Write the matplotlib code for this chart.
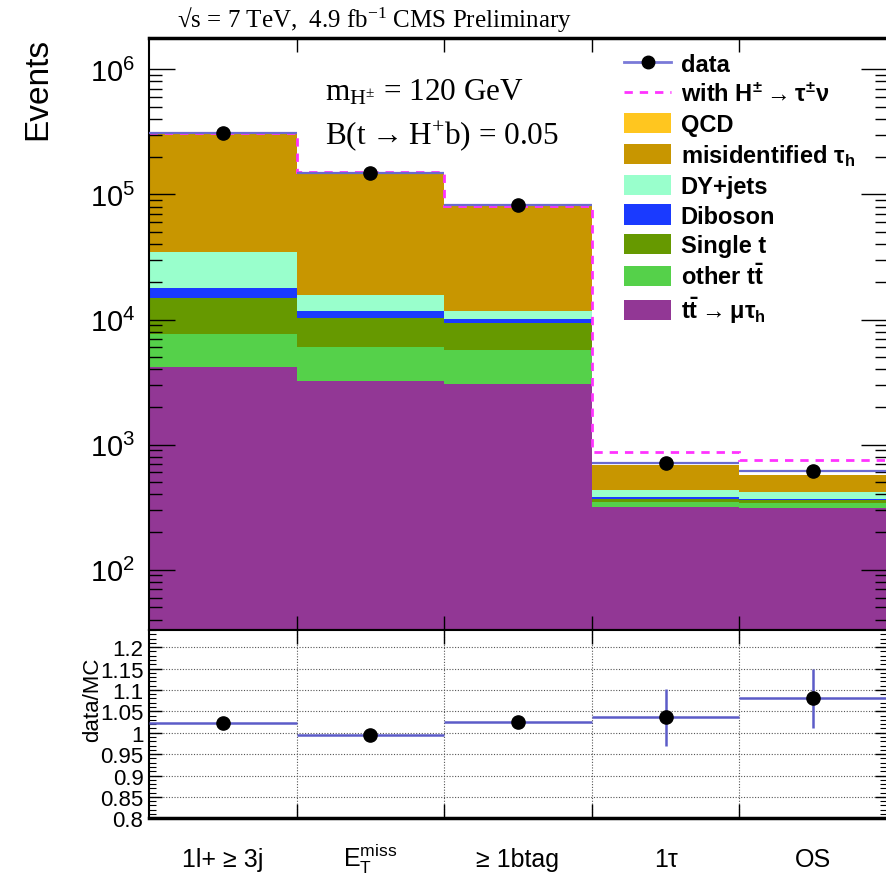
import numpy as np
import matplotlib
matplotlib.use('Agg')
import matplotlib.pyplot as plt
from matplotlib.patches import Patch
from matplotlib.lines import Line2D
from matplotlib.ticker import FixedLocator, MultipleLocator, LogLocator, NullFormatter, FuncFormatter

plt.rcParams['font.family'] = ['Liberation Sans', 'DejaVu Sans']
plt.rcParams['mathtext.default'] = 'regular'

# ---------------- data ----------------
categories = ["1l+ ≥ 3j", r"$E_{T}^{miss}$", "≥ 1btag", "1τ", "OS"]
tt_mutau = [4190, 3240, 3050, 315, 312]
other_tt = [3540, 2790, 2650, 33, 27]
single_t = [7070, 4270, 3660, 22, 24]
diboson = [3100, 1400, 740, 10, 7]
dy_jets = [17000, 4000, 1600, 56, 47]
misid_tau = [270100, 134300, 68700, 249, 152]
qcd = [600, 300, 150, 2, 2]
with_hpm = [3.07e5, 1.505e5, 8.1e4, 871, 758]
data = [3.12e5, 1.49e5, 8.24e4, 710, 615]
ratio = [1.023, 0.995, 1.0245, 1.036, 1.081]
ratio_err = [0.003, 0.003, 0.004, 0.066, 0.069]

components = [
    ("tt_mutau", tt_mutau, '#923795', r"$t\bar{t}\rightarrow$μτ$_{h}$"),
    ("other_tt", other_tt, '#55D14A', r"other $t\bar{t}$"),
    ("single_t", single_t, '#669900', "Single t"),
    ("diboson", diboson, '#1A3AFF', "Diboson"),
    ("dy", dy_jets, '#99FFCC', "DY+jets"),
    ("misid", misid_tau, '#C89600', r"misidentified τ$_{h}$"),
    ("qcd", qcd, '#FFC61F', "QCD"),
]

W, H = 886, 879
fig = plt.figure(figsize=(W / 100, H / 100), dpi=100)

left = 149 / W
right = 887 / W
main_top = 1 - 39 / H
main_bot = 1 - 631 / H
rat_bot = 1 - 819.3 / H

ax = fig.add_axes([left, main_bot, right - left, main_top - main_bot])
axr = fig.add_axes([left, rat_bot, right - left, main_bot - rat_bot], sharex=ax)

edges = np.arange(len(categories) + 1)
centers = edges[:-1] + 0.5

ylo, yhi = 33, 1.78e6
base = np.full(len(categories), 1e-3)
for name, vals, col, lab in components:
    top = base + np.array(vals, dtype=float)
    ax.stairs(top, edges, baseline=base, fill=True, color=col, lw=0)
    base = top

ax.stairs(with_hpm, edges, baseline=None, color='#FF33FF', lw=2.0,
          ls=(0, (3, 2.5)))

ax.errorbar(centers, data, xerr=0.5, fmt='o', color='black', ms=9.5,
            ecolor='#6a6ad0', elinewidth=1.6, capsize=0, zorder=5)

ax.set_yscale('log')
ax.set_ylim(ylo, yhi)
ax.set_xlim(0, len(categories))

ax.yaxis.set_major_locator(LogLocator(base=10, numticks=20))
ax.yaxis.set_minor_locator(LogLocator(base=10, subs=np.arange(2, 10), numticks=100))
ax.yaxis.set_minor_formatter(NullFormatter())
ax.tick_params(axis='y', which='major', direction='in', length=19, width=1.0,
               left=True, right=True, labelsize=21, pad=10)
ax.tick_params(axis='y', which='minor', direction='in', length=9, width=1.0,
               left=True, right=True)
ax.set_xticks(edges[1:-1])
ax.tick_params(axis='x', which='major', direction='in', length=10, width=1.0,
               top=True, bottom=True, labelbottom=False)
for s in ax.spines.values():
    s.set_linewidth(1.5)
ax.spines['top'].set_linewidth(2.5)

# legend
handles = [Line2D([0], [0], color='#7a7ad8', lw=2, marker='o', mfc='black',
                  mec='black', ms=9),
           Line2D([0], [0], color='#FF33FF', lw=2, ls=(0, (3, 2.5)))]
labels = ["data", r"with H$^{\pm}\rightarrow$τ$^{\pm}$ν"]
for name, vals, col, lab in components[::-1]:
    handles.append(Patch(facecolor=col, edgecolor='none'))
    labels.append(lab)
leg = fig.legend(handles, labels, loc='upper left',
                 bbox_to_anchor=(624 / W, 1 - 54 / H), frameon=False,
                 prop={'weight': 'bold', 'size': 17}, handlelength=2.0,
                 handleheight=0.95, labelspacing=0.27, handletextpad=0.4,
                 borderpad=0, borderaxespad=0)

# annotations
serif = ['Liberation Serif', 'DejaVu Serif']
fig.text(325 / W, 1 - 100.7 / H, r"m$_{H^{\pm}}$ = 120 GeV",
         family=serif, fontsize=22.5, va='baseline', ha='left')
fig.text(325 / W, 1 - 144 / H, r"B(t$\rightarrow$H$^{+}$b) = 0.05",
         family=serif, fontsize=22.5, va='baseline', ha='left')
fig.text(177 / W, 1 - 28 / H, "√s = 7 TeV,  4.9 fb$^{-1}$ CMS Preliminary",
         family=serif, fontsize=18, va='baseline', ha='left')
fig.text(38 / W, 1 - 89 / H, "Events", rotation=90, fontsize=24,
         va='center', ha='center')

# ratio panel
axr.errorbar(centers, ratio, xerr=0.5, yerr=ratio_err, fmt='o', color='black',
             ms=9.5, ecolor='#5c5cc8', elinewidth=1.8, capsize=0, zorder=5)
axr.set_ylim(0.8, 1.24)
axr.yaxis.set_major_locator(FixedLocator([0.8, 0.85, 0.9, 0.95, 1.0, 1.05, 1.1, 1.15, 1.2]))
axr.yaxis.set_minor_locator(MultipleLocator(0.01))
axr.yaxis.set_major_formatter(FuncFormatter(lambda v, p: "%g" % round(v, 3)))
axr.tick_params(axis='y', which='major', direction='in', length=9, width=1.0,
                left=True, right=True, labelsize=16, pad=4)
axr.tick_params(axis='y', which='minor', direction='in', length=5, width=0.8,
                left=True, right=True)
axr.set_xticks(edges[1:-1])
axr.set_xticks(centers, minor=True)
axr.set_xticklabels(categories, minor=True)
axr.tick_params(axis='x', which='major', direction='in', length=10, width=1.0,
                top=True, bottom=True, labelbottom=False)
axr.tick_params(axis='x', which='minor', length=0, labelsize=18, pad=34)
for lab in axr.get_xticklabels(minor=True):
    lab.set_verticalalignment('baseline')
axr.grid(True, which='major', axis='both', color='#555555', ls=(0, (1, 1.5)), lw=0.8)
axr.set_axisbelow(True)
for s in axr.spines.values():
    s.set_linewidth(1.5)
axr.spines['bottom'].set_linewidth(2.5)
axr.set_xlim(0, len(categories))
fig.text(93 / W, 1 - 700 / H, "data/MC", rotation=90, fontsize=16,
         va='center', ha='center')

fig.savefig('out.png', dpi=100)
